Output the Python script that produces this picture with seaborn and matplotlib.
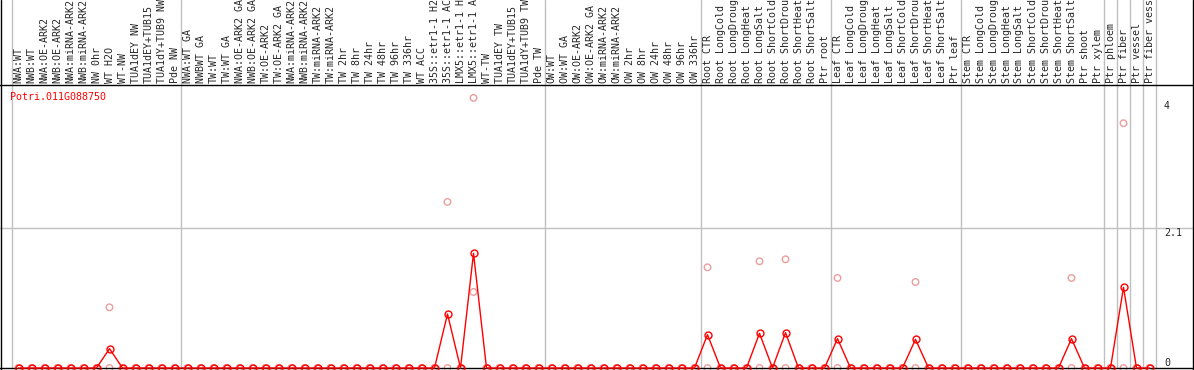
import matplotlib
matplotlib.use('Agg')
import matplotlib.pyplot as plt
import matplotlib.transforms as mtransforms
from matplotlib.lines import Line2D
import numpy as np
import pandas as pd
import seaborn as sns

gene_id = 'Potri.011G088750'

# sample labels, one per column (as shown, cut at the top of the image)
labels = [
    # group 1
    'NWA:WT', 'NWB:WT', 'NWA:OE-ARK2', 'NWB:OE-ARK2', 'NWA:miRNA-ARK2', 'NWB:miRNA-ARK2',
    'NW 0hr', 'WT H2O', 'WT-NW', 'TUA1dEY NW', 'TUA1dEY+TUB15', 'TUA1dY+TUB9 NW', 'Pde NW',
    # group 2
    'NWA:WT GA', 'NWBWT GA', 'TW:WT', 'TW:WT GA', 'NWA:OE-ARK2 GA', 'NWB:OE-ARK2 GA',
    'TW:OE-ARK2', 'TW:OE-ARK2 GA', 'NWA:miRNA-ARK2', 'NWB:miRNA-ARK2', 'TW:miRNA-ARK2',
    'TW:miRNA-ARK2', 'TW 2hr', 'TW 8hr', 'TW 24hr', 'TW 48hr', 'TW 96hr', 'TW 336hr',
    'WT ACC', '35S::etr1-1 H2', '35S::etr1-1 AC', 'LMX5::etr1-1 H', 'LMX5::etr1-1 A',
    'WT-TW', 'TUA1dEY TW', 'TUA1dEY+TUB15', 'TUA1dY+TUB9 TW', 'Pde TW',
    # group 3
    'OW:WT', 'OW:WT GA', 'OW:OE-ARK2', 'OW:OE-ARK2 GA', 'OW:miRNA-ARK2', 'OW:miRNA-ARK2',
    'OW 2hr', 'OW 8hr', 'OW 24hr', 'OW 48hr', 'OW 96hr', 'OW 336hr',
    # root
    'Root CTR', 'Root LongCold', 'Root LongDroug', 'Root LongHeat', 'Root LongSalt',
    'Root ShortCold', 'Root ShortDrou', 'Root ShortHeat', 'Root ShortSalt', 'Ptr root',
    # leaf
    'Leaf CTR', 'Leaf LongCold', 'Leaf LongDroug', 'Leaf LongHeat', 'Leaf LongSalt',
    'Leaf ShortCold', 'Leaf ShortDrou', 'Leaf ShortHeat', 'Leaf ShortSalt', 'Ptr leaf',
    # stem
    'Stem CTR', 'Stem LongCold', 'Stem LongDroug', 'Stem LongHeat', 'Stem LongSalt',
    'Stem ShortCold', 'Stem ShortDrou', 'Stem ShortHeat', 'Stem ShortSalt', 'Ptr shoot',
    'Ptr xylem',
    # single tissues
    'Ptr phloem', 'Ptr fiber', 'Ptr vessel', 'Ptr fiber vess',
]

# mean expression (red line)
mean_expr = [
    0, 0, 0, 0, 0, 0, 0, 0.29, 0, 0, 0, 0, 0,
    0, 0, 0, 0, 0, 0, 0, 0, 0, 0, 0, 0, 0, 0, 0, 0, 0, 0, 0, 0, 0.81, 0, 1.72, 0, 0, 0, 0, 0,
    0, 0, 0, 0, 0, 0, 0, 0, 0, 0, 0, 0,
    0.50, 0, 0, 0, 0.52, 0, 0.53, 0, 0, 0,
    0.44, 0, 0, 0, 0, 0, 0.43, 0, 0, 0,
    0, 0, 0, 0, 0, 0, 0, 0, 0.44, 0, 0,
    0, 1.21, 0, 0,
]

# individual replicates (pink circles)
rep1 = [
    0, 0, 0, 0, 0, 0, 0, 0.91, 0, 0, 0, 0, 0,
    0, 0, 0, 0, 0, 0, 0, 0, 0, 0, 0, 0, 0, 0, 0, 0, 0, 0, 0, 0, 2.49, 0, 4.05, 0, 0, 0, 0, 0,
    0, 0, 0, 0, 0, 0, 0, 0, 0, 0, 0, 0,
    1.51, 0, 0, 0, 1.60, 0, 1.63, 0, 0, 0,
    1.35, 0, 0, 0, 0, 0, 1.29, 0, 0, 0,
    0, 0, 0, 0, 0, 0, 0, 0, 1.35, 0, 0,
    0, 3.67, 0, 0,
]
rep2 = [
    0, 0, 0, 0, 0, 0, 0, 0, 0, 0, 0, 0, 0,
    0, 0, 0, 0, 0, 0, 0, 0, 0, 0, 0, 0, 0, 0, 0, 0, 0, 0, 0, 0, 0, 0, 1.14, 0, 0, 0, 0, 0,
    0, 0, 0, 0, 0, 0, 0, 0, 0, 0, 0, 0,
    0, 0, 0, 0, 0, 0, 0, 0, 0, 0,
    0, 0, 0, 0, 0, 0, 0, 0, 0, 0,
    0, 0, 0, 0, 0, 0, 0, 0, 0, 0, 0,
    0, 0, 0, 0,
]

# last column index of each group (separator lines drawn after them)
group_ends = [-1, 12, 40, 52, 62, 72, 83, 84, 85, 86, 87]

ytick_vals = [4, 2.1, 0]

sns.set_style('white')
plt.rcParams['font.family'] = ['DejaVu Sans Mono']
fs = 7.2

W, H = 1194, 370
top_px, bot_px = 85, 368
px_per_col, px_per_unit = 13, 66.7

fig = plt.figure(figsize=(W / 100, H / 100), dpi=100)
ax = fig.add_axes([0, (H - bot_px) / H, 1, (bot_px - top_px) / H])

x = np.arange(len(labels))
x0 = -18.5 / px_per_col
ax.set_xlim(x0, x0 + W / px_per_col)
ax.set_ylim(0, (bot_px - top_px) / px_per_unit)

# group separators and grid line
sep_top = bot_px / (bot_px - top_px)
for g in group_ends:
    ax.axvline(g + 0.5, ymin=0, ymax=sep_top, color='#c0c0c0', lw=1, clip_on=False, zorder=0)
ax.axhline(2.1, color='#c0c0c0', lw=1, zorder=0)

reps = pd.DataFrame({'x': np.concatenate([x, x]), 'y': rep1 + rep2})
sns.scatterplot(data=reps, x='x', y='y', ax=ax, marker='o', s=22,
                facecolors='none', edgecolor='#eb9d9d', linewidth=1,
                clip_on=False, zorder=2)

sns.lineplot(x=x, y=mean_expr, ax=ax, color='#ff0000', lw=1, marker='o', markersize=5,
             markerfacecolor='none', markeredgecolor='#ff0000', markeredgewidth=1,
             clip_on=False, zorder=3)

ax.set_xticks([])
ax.set_yticks([])
ax.set_xlabel('')
ax.set_ylabel('')
for s in ['left', 'right']:
    ax.spines[s].set_visible(False)
for s in ['top', 'bottom']:
    ax.spines[s].set_color('black')
    ax.spines[s].set_linewidth(1)

# column labels above the plot
lab_trans = mtransforms.blended_transform_factory(ax.transData, ax.transAxes)
for i, lab in enumerate(labels):
    ax.text(i, 1 + 2 / (bot_px - top_px), lab, transform=lab_trans, rotation=90,
            ha='center', va='bottom', fontsize=fs, clip_on=False)

# value labels on the right
val_trans = mtransforms.blended_transform_factory(ax.transAxes, ax.transData)
for v in ytick_vals:
    ax.text(1164 / W, v, f'{v:g}', transform=val_trans, ha='left',
            va='bottom' if v == 0 else 'top', fontsize=fs)

fig.text(10 / W, 1 - 97 / H, gene_id, color='#ff0000', ha='left', va='center', fontsize=fs)

# outer border lines
for xp in [1.0, W - 1.0]:
    fig.add_artist(Line2D([xp / W, xp / W], [0, 1], color='black', lw=1,
                          transform=fig.transFigure))

fig.savefig('out.png', dpi=100)
